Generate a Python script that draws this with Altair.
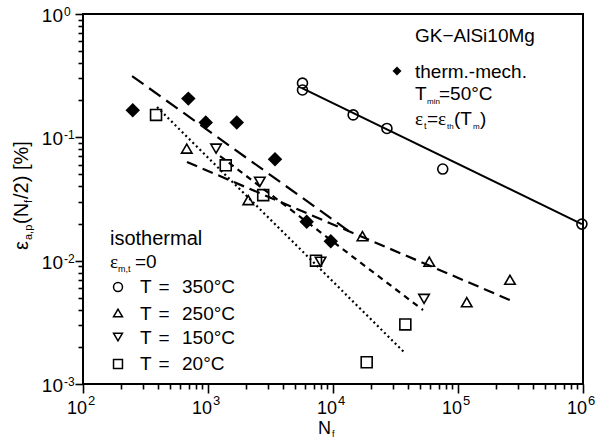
import altair as alt
import pandas as pd

FONT = "Liberation Sans"

# ---- measured fatigue lives N_f and strain amplitudes eps (%) ----
# isothermal, 350 °C (open circles)
n_350 = [5700, 5700, 14500, 27000, 75500, 980000]
e_350 = [0.275, 0.242, 0.152, 0.118, 0.0553, 0.0198]
# isothermal, 250 °C (triangles up)
n_250 = [676, 2100, 17200, 58900, 117500, 260600]
e_250 = [0.081, 0.031, 0.0158, 0.0098, 0.0046, 0.0070]
# isothermal, 150 °C (triangles down)
n_150 = [1160, 2600, 7950, 53500]
e_150 = [0.081, 0.0436, 0.0098, 0.0049]
# isothermal, 20 °C (squares)
n_20 = [384, 1386, 2765, 7310, 18600, 37900]
e_20 = [0.152, 0.0593, 0.034, 0.0100, 0.0015, 0.00304]
# thermo-mechanical (filled diamonds)
n_tmf = [250, 696, 959, 1698, 3436, 6160, 9600]
e_tmf = [0.166, 0.206, 0.132, 0.132, 0.0663, 0.0207, 0.0144]

# ---- fitted life lines (end points) ----
fit_tmf_n, fit_tmf_e = [247, 13680], [0.314, 0.0171]
fit_350_n, fit_350_e = [5650, 980000], [0.251, 0.0198]
fit_250_n, fit_250_e = [679, 260600], [0.0631, 0.00479]
fit_150_n, fit_150_e = [1248, 52500], [0.0705, 0.00398]
fit_20_n, fit_20_e = [391, 37700], [0.176, 0.00178]

# ---- axis ticks ----
x_major = [1e2, 1e3, 1e4, 1e5, 1e6]
x_exp = ["2", "3", "4", "5", "6"]
y_major = [1.0, 0.1, 0.01, 0.001]
y_exp = ["0", "-1", "-2", "-3"]
x_ticks = [m * 10 ** k for k in range(2, 6) for m in range(1, 10)] + [1e6]
y_ticks = [m * 10.0 ** k for k in range(-3, 0) for m in range(1, 10)] + [1.0]

major_test = "abs(log(datum.value)/LN10 - round(log(datum.value)/LN10)) < 0.001"

xs = alt.Scale(type="log", domain=[100, 1e6], nice=False)
ys = alt.Scale(type="log", domain=[0.001, 1], nice=False)
xaxis = alt.Axis(values=x_ticks, labels=False, title=None, grid=False, domain=False,
                 tickColor="black", tickWidth=1.6,
                 tickSize={"condition": {"test": major_test, "value": 9}, "value": 5})
yaxis = alt.Axis(values=y_ticks, labels=False, title=None, grid=False, domain=False,
                 tickColor="black", tickWidth=1.6,
                 tickSize={"condition": {"test": major_test, "value": 8}, "value": 5})


def X(field="N"):
    return alt.X(f"{field}:Q", scale=xs, axis=xaxis)


def Y(field="eps"):
    return alt.Y(f"{field}:Q", scale=ys, axis=yaxis)


def points(n, e, shape, size, filled=False):
    df = pd.DataFrame({"N": n, "eps": e})
    return alt.Chart(df).mark_point(
        shape=shape, size=size, filled=filled, color="black",
        strokeWidth=1.6, opacity=1
    ).encode(x=X(), y=Y())


def fit(n, e, dash=None, width=2.0):
    df = pd.DataFrame({"N": n, "eps": e})
    kw = dict(color="black", strokeWidth=width)
    if dash:
        kw["strokeDash"] = dash
    return alt.Chart(df).mark_line(**kw).encode(x=X(), y=Y())


def txt(s, x, y, size, align="left", angle=None, font=FONT):
    kw = dict(text=s, font=font, fontSize=size, align=align,
              baseline="alphabetic", color="black")
    if angle is not None:
        kw["angle"] = angle
    return alt.Chart(alt.Data(values=[{}])).mark_text(**kw).encode(
        x=alt.value(x), y=alt.value(y))


def sym(shape, x, y, size, filled=False):
    return alt.Chart(alt.Data(values=[{}])).mark_point(
        shape=shape, size=size, filled=filled, color="black",
        strokeWidth=1.5, opacity=1
    ).encode(x=alt.value(x), y=alt.value(y))


layers = [
    fit(fit_tmf_n, fit_tmf_e, [14, 7], 2.2),
    fit(fit_350_n, fit_350_e, None, 2.0),
    fit(fit_250_n, fit_250_e, [11, 6], 2.2),
    fit(fit_150_n, fit_150_e, [6, 5], 2.2),
    fit(fit_20_n, fit_20_e, [2, 3], 2.2),
    points(n_350, e_350, "circle", 100),
    points(n_250, e_250, "triangle-up", 110),
    points(n_150, e_150, "triangle-down", 110),
    points(n_20, e_20, "square", 120),
    points(n_tmf, e_tmf, "diamond", 210, filled=True),
]

# tick labels: 10 with raised exponent
xt = pd.DataFrame({"N": x_major, "exp": x_exp})
layers.append(alt.Chart(xt).mark_text(text="10", font=FONT, fontSize=18, align="right",
                                      baseline="alphabetic", dx=4, color="black")
              .encode(x=X(), y=alt.value(400)))
layers.append(alt.Chart(xt).mark_text(font=FONT, fontSize=13, align="left",
                                      baseline="alphabetic", dx=5, color="black")
              .encode(x=X(), y=alt.value(391), text="exp:N"))
yt = pd.DataFrame({"eps": y_major, "exp": y_exp})
layers.append(alt.Chart(yt).mark_text(text="10", font=FONT, fontSize=19, align="right",
                                      baseline="alphabetic", dy=8, color="black")
              .encode(y=Y(), x=alt.value(-20)))
layers.append(alt.Chart(yt).mark_text(font=FONT, fontSize=12, align="left",
                                      baseline="alphabetic", dy=2, color="black")
              .encode(y=Y(), x=alt.value(-19), text="exp:N"))

# axis titles
layers += [
    txt("N", 235, 420, 18),
    txt("f", 249, 423, 9),
    txt("ε", -55, 236, 20, angle=270),
    txt("a,p", -51, 226, 11, angle=270),
    txt("(N", -55, 210, 20, angle=270),
    txt("f", -51, 189, 11, angle=270),
    txt("/2) [%]", -55, 185, 20, angle=270),
]

# material and thermo-mechanical key
layers += [
    txt("GK−AlSi10Mg", 332, 28, 19),
    sym("diamond", 314, 57, 80, filled=True),
    txt("therm.-mech.", 332, 64, 19),
    txt("T", 332, 86, 19),
    txt("min", 344, 90, 8),
    txt("=50°C", 356, 86, 19),
    txt("ε", 332, 111, 19, font="Liberation Serif"),
    txt("t", 341, 115, 9),
    txt("=", 344, 111, 19),
    txt("ε", 355, 111, 19, font="Liberation Serif"),
    txt("th", 364, 115, 8),
    txt("(T", 371, 111, 19),
    txt("m", 390, 115, 8),
    txt(")", 397, 111, 19),
]

# isothermal key
layers += [
    txt("isothermal", 27, 231, 20),
    txt("ε", 27, 254, 19, font="Liberation Serif"),
    txt("m,t", 35, 258, 9),
    txt("=0", 52, 254, 19),
    sym("circle", 35, 273, 80),
    sym("triangle-up", 35, 299, 80),
    sym("triangle-down", 35, 323, 80),
    sym("square", 35, 350, 80),
]
for yb, label in zip([279, 306, 330, 356], ["350°C", "250°C", "150°C", "20°C"]):
    layers += [txt("T", 57, yb, 19), txt("=", 81, yb, 19, align="center"),
               txt(label, 99, yb, 19)]

chart = alt.layer(*layers).properties(
    width=500, height=370,
    padding={"left": 83, "top": 14, "right": 19, "bottom": 55},
    autosize=alt.AutoSizeParams(type="none"),
    background="white",
).configure_view(stroke="black", strokeWidth=2)

chart.save("out.html", embed_options={"renderer": "svg", "actions": False})
